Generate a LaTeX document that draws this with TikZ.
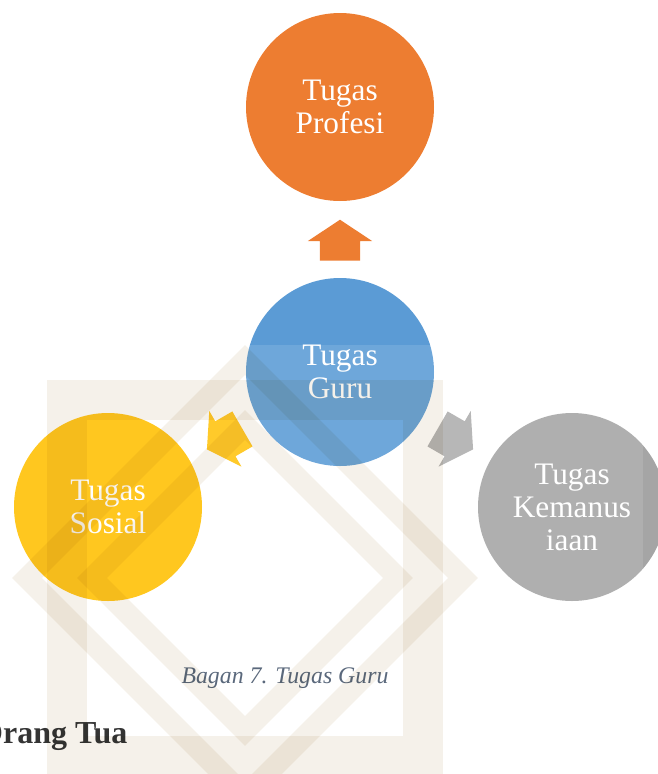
\documentclass[tikz,border=0pt]{standalone}
\usepackage{fontspec}
\setmainfont{Liberation Serif}
\usetikzlibrary{shapes.arrows,calc}

\definecolor{profesiorange}{HTML}{ED7D31}
\definecolor{gurublue}{HTML}{5B9BD5}
\definecolor{sosialgold}{HTML}{FFC000}
\definecolor{kemanusgray}{HTML}{A5A5A5}
\definecolor{captiongray}{HTML}{44546A}
\definecolor{markbeige}{HTML}{F5F1EA}

\begin{document}
\begin{tikzpicture}[x=1pt,y=-1pt]
    \def\ringsize{188pt}
    \def\tipgap{20pt}
    \tikzstyle{task}=[circle,minimum size=\ringsize,inner sep=0pt,text=white,align=center,font=\fontsize{31.3}{33}\selectfont]
    \tikzstyle{profesi task}=[task,fill=profesiorange];
    \tikzstyle{guru task}=[task,fill=gurublue];
    \tikzstyle{sosial task}=[task,fill=sosialgold];
    \tikzstyle{kemanus task}=[task,fill=kemanusgray];
    \tikzstyle{block arrow}=[single arrow,anchor=tip,minimum height=41pt,inner xsep=0pt,inner ysep=20pt,single arrow head extend=12pt,single arrow tip angle=113]
    \tikzstyle{mark strip}=[draw=markbeige,line width=21pt,blend mode=multiply]

    \useasboundingbox (0,0) rectangle (658,774);
    \clip (0,0) rectangle (658,774);

    % Draw the task circles
    \node[profesi task] (profesi) at (340,107) {Tugas\\Profesi};
    \node[guru task] (guru) at (340,372) {Tugas\\Guru};
    \node[sosial task] (sosial) at (108,507) {Tugas\\Sosial};
    \node[kemanus task] (kemanus) at (572,507) {Tugas\\Kemanus\\iaan};

    % Block arrows half way from the centre to each task
    \node[block arrow,fill=profesiorange,rotate=90] (to-profesi)
        at ($(guru)!0.5!(profesi)!\tipgap!(profesi)$) {};
    \node[block arrow,fill=sosialgold!95!white,rotate=210] (to-sosial)
        at ($(guru)!0.5!(sosial)!\tipgap!(sosial)$) {};
    \node[block arrow,fill=kemanusgray!90!white,rotate=330] (to-kemanus)
        at ($(guru)!0.5!(kemanus)!\tipgap!(kemanus)$) {};

    % Caption and heading
    \node[anchor=base,inner sep=0pt,text=captiongray,font=\fontsize{23.8}{26}\itshape] (caption) at (285,683) {Bagan 7. Tugas Guru};
    \node[anchor=base west,inner sep=0pt,text=black!90,font=\fontsize{32}{36}\bfseries] (heading) at (-22,743) {Orang Tua};

    % Watermark behind the scan
    \fill[white,opacity=0.12] (-5,345) rectangle (643,780);
    \draw[mark strip,line width=40pt] (67,400) rectangle (423,756);
    \draw[mark strip] (245,360) -- (463,578) -- (245,796) -- (27,578) -- cycle;
    \draw[mark strip] (245,425) -- (398,578) -- (245,731) -- (92,578) -- cycle;
\end{tikzpicture}
\end{document}
